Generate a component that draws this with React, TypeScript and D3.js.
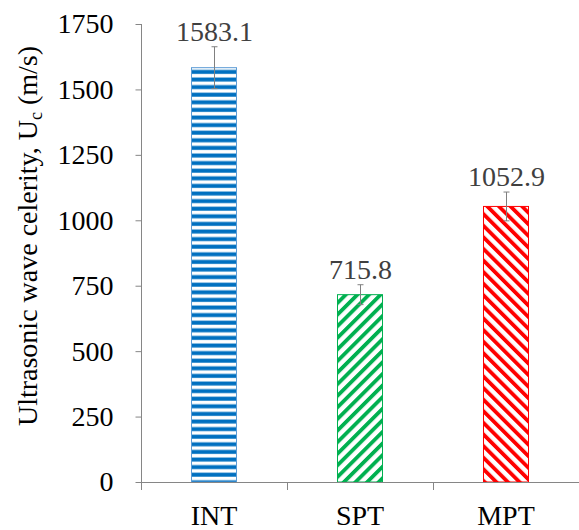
import React, { useEffect, useRef } from 'react';
import * as d3 from 'd3';

const categories = ['INT', 'SPT', 'MPT'];
const values = [1583.1, 715.8, 1052.9];
const errors = [80, 38, 55];
const yTicks = [0, 250, 500, 750, 1000, 1250, 1500, 1750];

export default function App() {
  const svgRef = useRef<SVGSVGElement>(null);

  useEffect(() => {
    const width = 579;
    const height = 530;
    const left = 141;
    const right = 579;
    const top = 24;
    const bottom = 482;

    const svg = d3.select(svgRef.current);
    svg.selectAll('*').remove();
    svg.attr('width', width).attr('height', height);

    const font = '"Liberation Serif", "Times New Roman", serif';

    // Patterns
    const defs = svg.append('defs');
    const horiz = defs.append('pattern')
      .attr('id', 'pat-int')
      .attr('patternUnits', 'userSpaceOnUse')
      .attr('width', 8)
      .attr('height', 7.6);
    horiz.append('rect').attr('width', 8).attr('height', 7.6).attr('fill', '#fff');
    horiz.append('rect').attr('y', 1.5).attr('width', 8).attr('height', 4).attr('fill', '#0070c0');

    const up = defs.append('pattern')
      .attr('id', 'pat-spt')
      .attr('patternUnits', 'userSpaceOnUse')
      .attr('width', 8.2)
      .attr('height', 8.2)
      .attr('patternTransform', 'rotate(45)');
    up.append('rect').attr('width', 8.2).attr('height', 8.2).attr('fill', '#fff');
    up.append('rect').attr('width', 3.8).attr('height', 8.2).attr('fill', '#00b050');

    const down = defs.append('pattern')
      .attr('id', 'pat-mpt')
      .attr('patternUnits', 'userSpaceOnUse')
      .attr('width', 8.2)
      .attr('height', 8.2)
      .attr('patternTransform', 'rotate(-45)');
    down.append('rect').attr('width', 8.2).attr('height', 8.2).attr('fill', '#fff');
    down.append('rect').attr('width', 3.8).attr('height', 8.2).attr('fill', '#ff0000');

    const fills = ['url(#pat-int)', 'url(#pat-spt)', 'url(#pat-mpt)'];
    const borders = ['#5b9bd5', '#00b050', '#ff0000'];

    // Scales
    const x = d3.scaleBand()
      .domain(categories)
      .range([left, right])
      .paddingInner(0.685)
      .paddingOuter(0.3425);

    const y = d3.scaleLinear()
      .domain([0, 1750])
      .range([bottom, top]);

    const step = (right - left) / categories.length;

    // Bars
    categories.forEach((c, i) => {
      svg.append('rect')
        .attr('x', x(c)! + 0.5)
        .attr('y', y(values[i]))
        .attr('width', x.bandwidth() - 1)
        .attr('height', y(0) - y(values[i]))
        .attr('fill', fills[i])
        .attr('stroke', borders[i])
        .attr('stroke-width', 1);
    });

    // Error bars + value labels
    categories.forEach((c, i) => {
      const cx = Math.round(x(c)! + x.bandwidth() / 2) + 0.5;
      const y1 = y(values[i] + errors[i]);
      const y2 = y(values[i] - errors[i]);
      const g = svg.append('g').attr('stroke', '#808080').attr('stroke-width', 1);
      g.append('line').attr('x1', cx).attr('x2', cx).attr('y1', y1).attr('y2', y2);
      g.append('line').attr('x1', cx - 3).attr('x2', cx + 3).attr('y1', y1).attr('y2', y1);
      g.append('line').attr('x1', cx - 3).attr('x2', cx + 3).attr('y1', y2).attr('y2', y2);

      svg.append('text')
        .attr('x', cx)
        .attr('y', y1 - 6)
        .attr('text-anchor', 'middle')
        .style('font-family', font)
        .attr('font-size', 28)
        .attr('fill', '#404040')
        .text(values[i].toFixed(1));
    });

    // Y axis
    const yAxis = svg.append('g')
      .attr('transform', `translate(${left + 0.5},0)`)
      .call(d3.axisLeft(y).tickValues(yTicks).tickSize(6).tickPadding(22).tickFormat(d3.format('d')));
    yAxis.select('.domain').remove();
    yAxis.append('line')
      .attr('y1', y(1750))
      .attr('y2', bottom + 8)
      .attr('stroke', '#868686');
    yAxis.selectAll('.tick line').attr('stroke', '#868686');
    yAxis.selectAll('.tick text')
      .style('font-family', font)
      .attr('font-size', 28)
      .attr('fill', '#000');

    // X axis
    const xAxis = svg.append('g');
    xAxis.append('line')
      .attr('x1', left)
      .attr('x2', right)
      .attr('y1', bottom + 0.5)
      .attr('y2', bottom + 0.5)
      .attr('stroke', '#868686');
    d3.range(categories.length + 1).forEach(k => {
      const tx = Math.round(left + k * step) + 0.5;
      xAxis.append('line')
        .attr('x1', tx)
        .attr('x2', tx)
        .attr('y1', bottom)
        .attr('y2', bottom + 8)
        .attr('stroke', '#868686');
    });
    categories.forEach(c => {
      xAxis.append('text')
        .attr('x', x(c)! + x.bandwidth() / 2)
        .attr('y', 525)
        .attr('text-anchor', 'middle')
        .style('font-family', font)
        .attr('font-size', 28)
        .attr('fill', '#000')
        .text(c);
    });

    // Y title
    const title = svg.append('text')
      .attr('transform', `translate(37,${236}) rotate(-90)`)
      .attr('text-anchor', 'middle')
      .style('font-family', font)
      .attr('font-size', 28)
      .attr('fill', '#000');
    title.append('tspan').text('Ultrasonic wave celerity, U');
    title.append('tspan').attr('font-size', 18).attr('dy', 5).text('c');
    title.append('tspan').attr('dy', -5).text(' (m/s)');
  }, []);

  return (
    <div style={{ position: 'absolute', left: 0, top: 0 }}>
      <svg ref={svgRef}></svg>
    </div>
  );
}
